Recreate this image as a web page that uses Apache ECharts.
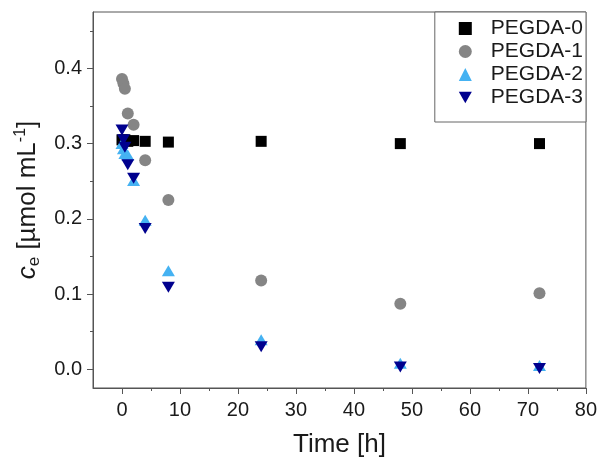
<!DOCTYPE html>
<html><head><meta charset="utf-8">
<script src="https://cdn.jsdelivr.net/npm/echarts@6/dist/echarts.min.js"></script>
<style>html,body{margin:0;padding:0;background:#fff}#c{width:600px;height:463px}</style>
</head><body><div id="c"></div>
<script>
const seriesNames = ['PEGDA-0','PEGDA-1','PEGDA-2','PEGDA-3'];
const time = [0, 0.25, 0.5, 1, 2, 4, 8, 24, 48, 72];
const pegda0 = [0.305, 0.304, 0.305, 0.303, 0.304, 0.303, 0.302, 0.303, 0.300, 0.300];
const pegda1Time = [0, 0.25, 0.5, 1, 2, 4, 8, 24, 48, 72];
const pegda1 = [0.386, 0.380, 0.373, 0.340, 0.325, 0.278, 0.225, 0.118, 0.087, 0.101];
const pegda2 = [0.300, 0.293, 0.287, 0.285, 0.251, 0.198, 0.131, 0.039, 0.008, 0.005];
const pegda3 = [0.318, 0.305, 0.295, 0.272, 0.254, 0.187, 0.109, 0.030, 0.003, 0.001];
const xMajor = [0, 10, 20, 30, 40, 50, 60, 70, 80];
const xMinor = [5, 15, 25, 35, 45, 55, 65, 75];
const yMajor = [0, 0.1, 0.2, 0.3, 0.4];
const yMinor = [0.05, 0.15, 0.25, 0.35, 0.45];

const pair = (xs, ys) => xs.map((x, i) => [x, ys[i]]);
const FONT = 'Liberation Sans, Arial, sans-serif';
const AX = '#555';
const TXT = '#1a1a1a';

const chart = echarts.init(document.getElementById('c'), null, {renderer: 'canvas'});
chart.setOption({
  animation: false,
  backgroundColor: '#fff',
  grid: {left: 93, right: 13, top: 12, bottom: 72, show: true, borderColor: AX, borderWidth: 1},
  xAxis: [{
    type: 'value', min: -5, max: 80, position: 'bottom',
    name: 'Time [h]', nameLocation: 'middle', nameGap: 44,
    nameTextStyle: {fontSize: 26, color: TXT, fontFamily: FONT},
    axisLine: {show: true, onZero: false, lineStyle: {color: AX}},
    axisTick: {show: true, length: 6, customValues: xMajor, lineStyle: {color: AX}},
    axisLabel: {customValues: xMajor, fontSize: 20, color: TXT, fontFamily: FONT, margin: 12},
    splitLine: {show: false}
  }, {
    type: 'value', min: -5, max: 80, position: 'bottom', gridIndex: 0,
    axisLine: {show: false, onZero: false},
    axisTick: {show: true, length: 3, customValues: xMinor, lineStyle: {color: AX}},
    axisLabel: {show: false},
    splitLine: {show: false}
  }],
  yAxis: [{
    type: 'value', min: -0.025, max: 0.475, position: 'left',
    name: '{i|c}{sub|e}{n| [µmol mL}{sup|-1}{n|]}', nameLocation: 'middle', nameGap: 50, nameRotate: 90,
    nameTextStyle: {
      fontSize: 26, color: TXT, fontFamily: FONT,
      rich: {
        i: {fontSize: 26, fontStyle: 'italic', fontFamily: FONT, color: TXT, lineHeight: 30},
        n: {fontSize: 26, fontFamily: FONT, color: TXT, lineHeight: 30},
        sub: {fontSize: 17, fontFamily: FONT, color: TXT, verticalAlign: 'bottom', lineHeight: 30, padding: [10, 0, 0, 0]},
        sup: {fontSize: 16, fontFamily: FONT, color: TXT, verticalAlign: 'top', lineHeight: 30, padding: [0, 0, 12, 0]}
      }
    },
    axisLine: {show: true, onZero: false, lineStyle: {color: AX}},
    axisTick: {show: true, length: 6, customValues: yMajor, lineStyle: {color: AX}},
    axisLabel: {customValues: yMajor, fontSize: 20, color: TXT, fontFamily: FONT, margin: 11,
      formatter: v => v.toFixed(1)},
    splitLine: {show: false}
  }, {
    type: 'value', min: -0.025, max: 0.475, position: 'left', gridIndex: 0,
    axisLine: {show: false, onZero: false},
    axisTick: {show: true, length: 3, customValues: yMinor, lineStyle: {color: AX}},
    axisLabel: {show: false},
    splitLine: {show: false}
  }],
  legend: {
    orient: 'vertical', right: 14, top: 12,
    backgroundColor: '#fff', borderColor: '#666', borderWidth: 1,
    padding: [6, 3, 14, 24], itemGap: 2, itemWidth: 13, itemHeight: 13,
    textStyle: {fontSize: 21, color: TXT, fontFamily: FONT, padding: [0, 0, 0, 14]},
    data: [
      {name: seriesNames[0], icon: 'rect'},
      {name: seriesNames[1], icon: 'circle'},
      {name: seriesNames[2], icon: 'triangle'},
      {name: seriesNames[3], icon: 'path://M0,0 L10,0 L5,9 Z'}
    ]
  },
  series: [
    {name: seriesNames[0], type: 'scatter', symbol: 'rect', symbolSize: 11,
      itemStyle: {color: '#000', opacity: 1}, data: pair(time, pegda0), z: 2},
    {name: seriesNames[1], type: 'scatter', symbol: 'circle', symbolSize: 12,
      itemStyle: {color: '#858585', opacity: 1}, data: pair(pegda1Time, pegda1), z: 3},
    {name: seriesNames[2], type: 'scatter', symbol: 'triangle', symbolSize: [13, 11],
      itemStyle: {color: '#45b2f2', opacity: 1}, data: pair(time, pegda2), z: 4},
    {name: seriesNames[3], type: 'scatter', symbol: 'path://M0,0 L10,0 L5,9 Z', symbolSize: [13, 11],
      itemStyle: {color: '#00008e', opacity: 1}, data: pair(time, pegda3), z: 5}
  ]
});
</script></body></html>
